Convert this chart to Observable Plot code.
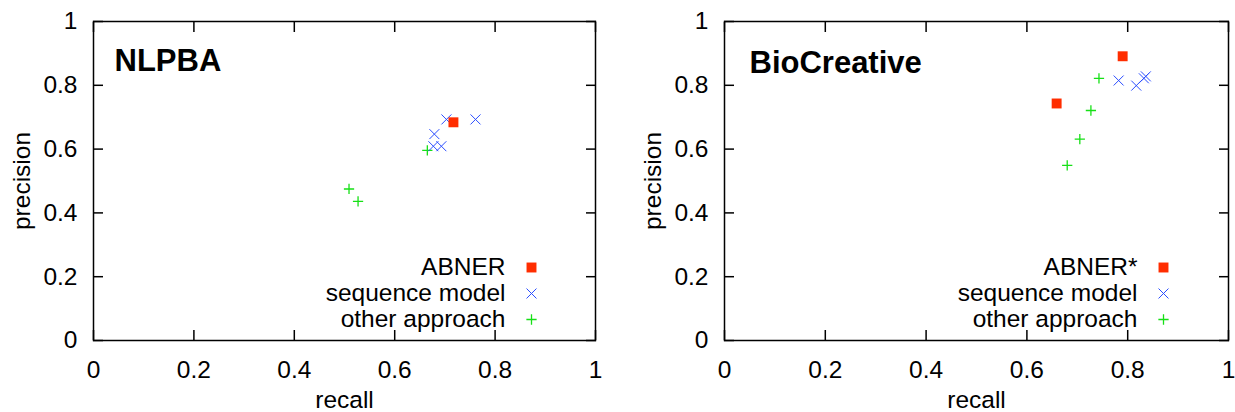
<!DOCTYPE html>
<html><head><meta charset="utf-8">
<script src="https://cdn.jsdelivr.net/npm/d3@7"></script>
<script src="https://cdn.jsdelivr.net/npm/@observablehq/plot@0.6"></script>
<style>
body{margin:0;background:#fff;}
#chart{display:flex;width:1235px;height:412px;overflow:hidden;}
#chart svg{overflow:visible;}
</style></head><body><div id="chart"></div>
<script>
// ---- data ----
const ticks = [0, 0.2, 0.4, 0.6, 0.8, 1];

const nlpbaAbnerRecall = [0.717];
const nlpbaAbnerPrecision = [0.684];
const nlpbaSeqRecall = [0.703, 0.761, 0.679, 0.677, 0.693];
const nlpbaSeqPrecision = [0.693, 0.693, 0.647, 0.609, 0.609];
const nlpbaOtherRecall = [0.665, 0.509, 0.527];
const nlpbaOtherPrecision = [0.596, 0.475, 0.436];

const bioAbnerRecall = [0.790, 0.659];
const bioAbnerPrecision = [0.891, 0.743];
const bioSeqRecall = [0.782, 0.817, 0.832, 0.836];
const bioSeqPrecision = [0.815, 0.799, 0.822, 0.828];
const bioOtherRecall = [0.743, 0.727, 0.705, 0.680];
const bioOtherPrecision = [0.822, 0.721, 0.631, 0.549];

const nlpbaLegend = ["ABNER", "sequence model", "other approach"];
const bioLegend = ["ABNER*", "sequence model", "other approach"];

// ---- styles ----
const RED = "#ff2d00", BLUE = "#2a4dff", GREEN = "#16e016";
const FONT = "'Liberation Sans', Arial, Helvetica, sans-serif";
const seriesStyle = [
  {symbol: "square", fill: RED, stroke: "none", r: 5.6, strokeWidth: 0},
  {symbol: "times", fill: "none", stroke: BLUE, r: 4.6, strokeWidth: 1},
  {symbol: "plus", fill: "none", stroke: GREEN, r: 3.4, strokeWidth: 1.3}
];

const zip = (rs, ps) => rs.map((r, i) => ({recall: r, precision: ps[i]}));

function panel({title, legend, series, width, marginLeft, marginRight, titleDx, titleDy, legTextDx, legSymDx}) {
  const marks = [
    Plot.frame({stroke: "black", strokeWidth: 1.5}),
    Plot.axisX({anchor: "bottom", ticks, tickSize: -10, tickPadding: 30, strokeWidth: 1.5, tickFormat: String,
      label: "recall", labelArrow: "none", labelAnchor: "center", labelOffset: 67}),
    Plot.axisX({anchor: "top", ticks, tickSize: -10, strokeWidth: 1.5, tickFormat: () => "", label: null}),
    Plot.axisY({anchor: "left", ticks, tickSize: -10, tickPadding: 26, strokeWidth: 1.5, tickFormat: String,
      label: "precision", labelArrow: "none", labelAnchor: "center", labelOffset: 81}),
    Plot.axisY({anchor: "right", ticks, tickSize: -10, strokeWidth: 1.5, tickFormat: () => "", label: null})
  ];
  // data points: draw other, seq, then abner on top
  [2, 1, 0].forEach(k => {
    const s = seriesStyle[k];
    marks.push(Plot.dot(series[k], {x: "recall", y: "precision", symbol: s.symbol, r: s.r,
      fill: s.fill, stroke: s.stroke, strokeWidth: s.strokeWidth}));
  });
  marks.push(Plot.text([title], {frameAnchor: "top-left", dx: titleDx, dy: titleDy, lineAnchor: "top",
    textAnchor: "start", fontWeight: "bold", fontSize: 31}));
  legend.forEach((label, i) => {
    const s = seriesStyle[i];
    const dy = -73 + 26 * i;
    marks.push(Plot.text([label], {frameAnchor: "bottom-right", dx: legTextDx, dy, textAnchor: "end", lineAnchor: "middle"}));
    marks.push(Plot.dot([label], {frameAnchor: "bottom-right", dx: legSymDx, dy, symbol: s.symbol, r: s.r,
      fill: s.fill, stroke: s.stroke, strokeWidth: s.strokeWidth}));
  });
  return Plot.plot({
    width, height: 412, marginLeft, marginRight, marginTop: 21, marginBottom: 72,
    x: {domain: [0, 1]}, y: {domain: [0, 1]},
    style: {fontFamily: FONT, fontSize: "24.5px", color: "black", background: "white", overflow: "visible"},
    marks
  });
}

const chart = document.getElementById("chart");
chart.appendChild(panel({
  title: "NLPBA", legend: nlpbaLegend,
  series: [zip(nlpbaAbnerRecall, nlpbaAbnerPrecision), zip(nlpbaSeqRecall, nlpbaSeqPrecision), zip(nlpbaOtherRecall, nlpbaOtherPrecision)],
  width: 617, marginLeft: 93, marginRight: 22, titleDx: 21, titleDy: 27, legTextDx: -90, legSymDx: -64
}));
chart.appendChild(panel({
  title: "BioCreative", legend: bioLegend,
  series: [zip(bioAbnerRecall, bioAbnerPrecision), zip(bioSeqRecall, bioSeqPrecision), zip(bioOtherRecall, bioOtherPrecision)],
  width: 618, marginLeft: 107, marginRight: 7, titleDx: 25, titleDy: 29, legTextDx: -91, legSymDx: -65
}));
</script>
</body></html>
